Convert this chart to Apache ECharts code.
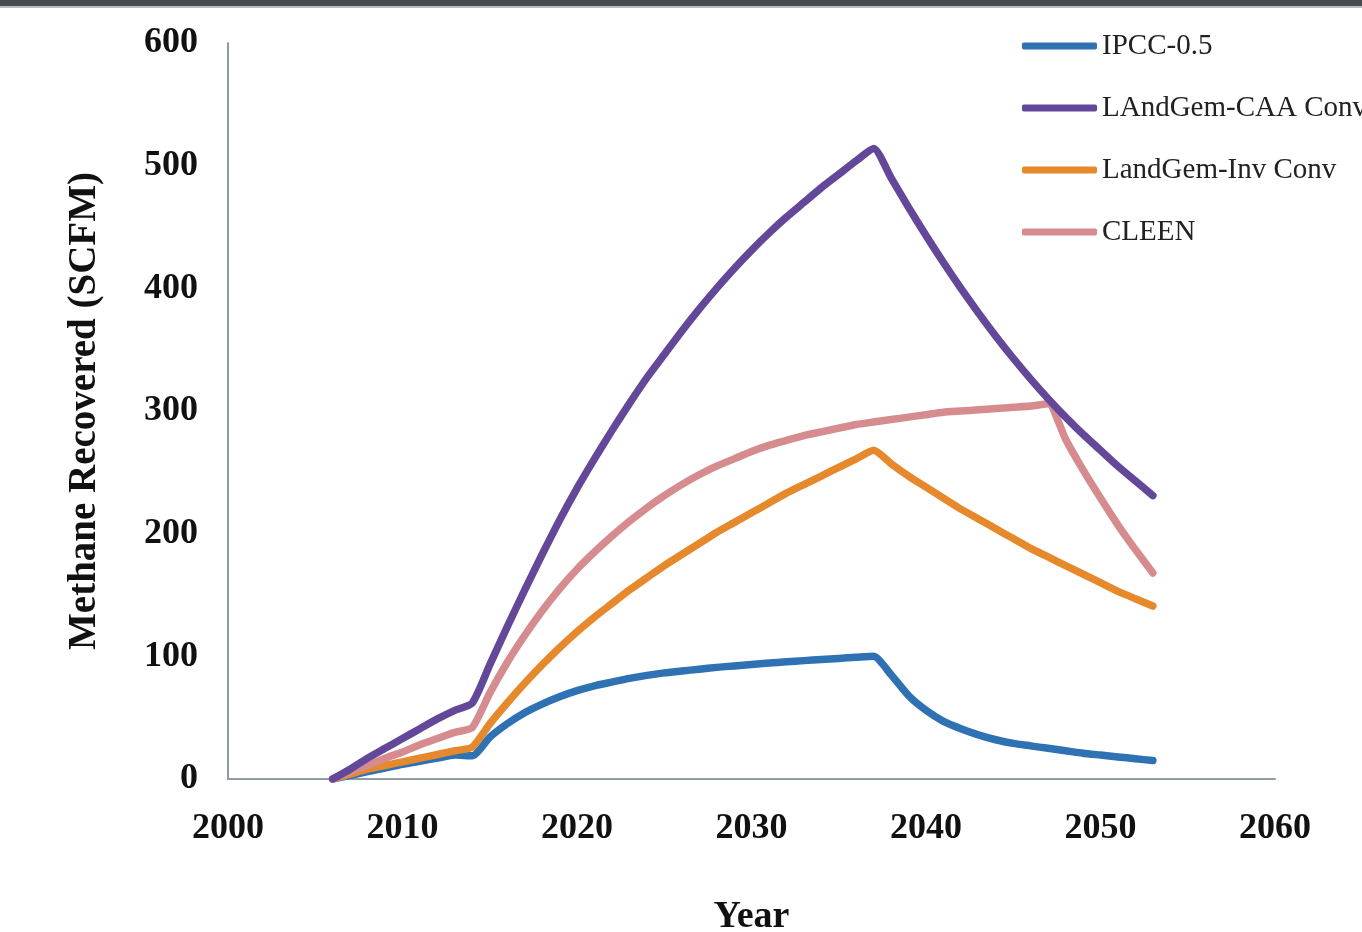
<!DOCTYPE html>
<html>
<head>
<meta charset="utf-8">
<script src="https://cdn.jsdelivr.net/npm/echarts@6/dist/echarts.min.js"></script>
<style>
  html, body { margin: 0; padding: 0; background: #ffffff; }
  #chart { width: 1362px; height: 932px; }
</style>
</head>
<body>
<div id="chart"></div>
<script>
// Years of the landfill gas recovery projection
const years = [];
for (let y = 2006; y <= 2053; y++) years.push(y);

// Methane recovered (SCFM) per model, one value per year 2006–2053
const ipcc = [0, 3, 6, 9, 12, 14.5, 17, 19.5, 19,
  34, 45, 54, 61, 67, 72, 76, 79, 82, 84.5, 86.5, 88, 89.5, 91, 92.2, 93.4, 94.5, 95.5, 96.5, 97.4, 98.3, 99.2, 100,
  85, 68, 56, 47, 41, 36, 32, 29, 27, 25, 23, 21, 19.5, 18, 16.5, 15];

const landgemCaa = [0, 8, 17, 25, 33, 41, 49, 56, 62,
  93, 124, 154, 183, 211, 237, 261, 284, 306, 327, 346, 365, 383, 400, 416, 431, 445, 458, 470, 482, 493, 504, 514,
  490, 466, 443, 421, 400, 380, 361, 343, 326, 310, 295, 281, 268, 255, 243, 231];

const landgemInv = [0, 4, 8, 11, 14, 17, 20, 23, 26,
  45, 62, 78, 93, 107, 120, 132, 143, 154, 164, 174, 183, 192, 201, 209, 217, 225, 233, 240, 247, 254, 261, 268,
  257, 247, 238, 229, 220, 212, 204, 196, 188, 181, 174, 167, 160, 153, 147, 141];

const cleen = [0, 6, 11, 17, 22, 28, 33, 38, 42,
  70, 95, 117, 137, 155, 171, 185, 198, 210, 221, 231, 240, 248, 255, 261, 267, 272, 276, 280, 283, 286, 289, 291,
  293, 295, 297, 299, 300, 301, 302, 303, 304, 306,
  277, 252, 229, 207, 187, 168];

const seriesNames = ['IPCC-0.5', 'LAndGem-CAA Conv', 'LandGem-Inv Conv', 'CLEEN'];
const seriesColors = ['#2f72b4', '#634899', '#e5892c', '#d68c8e'];
const seriesValues = [ipcc, landgemCaa, landgemInv, cleen];

const xTicks = { min: 2000, max: 2060, step: 10 };
const yTicks = { min: 0, max: 600, step: 100 };

const chart = echarts.init(document.getElementById('chart'), null, { renderer: 'canvas' });

const axisGray = '#8e9ba6';
const serif = '"Liberation Serif", "DejaVu Serif", serif';

chart.setOption({
  backgroundColor: '#ffffff',
  animation: false,
  graphic: [
    { type: 'rect', left: 0, top: 0, shape: { width: 1362, height: 6 }, style: { fill: '#474c53' } },
    { type: 'rect', left: 0, top: 6, shape: { width: 1362, height: 2 }, style: { fill: '#b9bec4' } }
  ],
  grid: { left: 228, right: 87, top: 43, bottom: 153, containLabel: false, outerBoundsMode: 'none' },
  legend: {
    orient: 'vertical',
    left: 1022,
    top: 31,
    padding: 0,
    itemWidth: 75,
    itemHeight: 7,
    itemGap: 32,
    icon: 'roundRect',
    textStyle: { fontFamily: serif, fontSize: 29, color: '#222222', lineHeight: 30 },
    data: seriesNames
  },
  xAxis: {
    type: 'value',
    min: xTicks.min,
    max: xTicks.max,
    interval: xTicks.step,
    name: 'Year',
    nameLocation: 'middle',
    nameGap: 119,
    nameTextStyle: { fontFamily: serif, fontSize: 38, fontWeight: 'bold', color: '#111111' },
    axisLine: { show: true, lineStyle: { color: axisGray, width: 2 } },
    axisTick: { show: false },
    splitLine: { show: false },
    axisLabel: {
      fontFamily: serif, fontSize: 36, fontWeight: 'bold', color: '#111111', margin: 32,
      formatter: (v) => String(v)
    }
  },
  yAxis: {
    type: 'value',
    min: yTicks.min,
    max: yTicks.max,
    interval: yTicks.step,
    name: 'Methane Recovered (SCFM)',
    nameLocation: 'middle',
    nameGap: 124,
    nameRotate: 90,
    nameTextStyle: { fontFamily: serif, fontSize: 39, fontWeight: 'bold', color: '#111111' },
    axisLine: { show: true, lineStyle: { color: axisGray, width: 2 } },
    axisTick: { show: false },
    splitLine: { show: false },
    axisLabel: {
      fontFamily: serif, fontSize: 36, fontWeight: 'bold', color: '#111111', margin: 30,
      padding: [7, 0, 0, 0]
    }
  },
  series: seriesNames.map((name, i) => ({
    name: name,
    type: 'line',
    data: years.map((y, k) => [y, seriesValues[i][k]]),
    showSymbol: false,
    symbol: 'none',
    smooth: 0.2,
    color: seriesColors[i],
    lineStyle: { width: 7.5, color: seriesColors[i], cap: 'round', join: 'round' },
    z: [2, 4, 3, 3][i]
  }))
});
</script>
</body>
</html>
